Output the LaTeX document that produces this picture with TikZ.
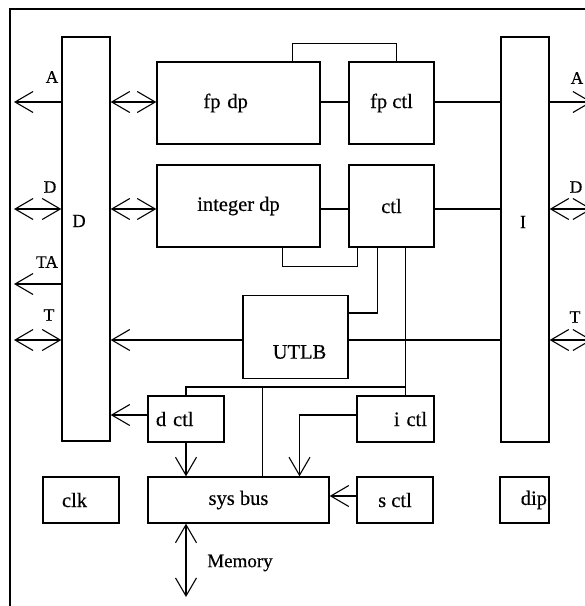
\documentclass[tikz,border=0pt]{standalone}
\usepackage{fontspec}
\setmainfont{Liberation Serif}[FakeBold=0.4]
\usetikzlibrary{arrows.meta}

\begin{document}
\begin{tikzpicture}[x=1pt, y=-1pt,
        >={Straight Barb[length=18pt,width=21pt]},
        box/.style={draw, line width=1.4pt, inner sep=0pt,
                    font=\fontsize{20.5}{23}\selectfont},
        lbl/.style={font=\fontsize{17.5}{20}\selectfont, inner sep=0pt},
        wire/.style={line width=1.1pt}]
      \useasboundingbox (0,0) rectangle (585,606);
      % frame, cut off at right and bottom
      \draw[line width=1.4pt] (585,9) -- (10,9) -- (10,606);
      % the two buses
      \node[box, minimum width=48pt, minimum height=404pt] (dbus) at (86,239) {};
      \node[box, minimum width=48pt, minimum height=405pt] (ibus) at (525,239.5) {};
      \node[lbl, font=\fontsize{18.5}{20}\selectfont] (dname) at (79,221) {D};
      \node[lbl, font=\fontsize{18.5}{20}\selectfont] (iname) at (523,222) {I};
      % datapaths and their control
      \node[box, minimum width=163pt, minimum height=82pt,
            text width=70pt, align=left] (fpdp) at (238.5,103) {fp dp};
      \node[box, minimum width=85pt, minimum height=82pt] (fpctl) at (391.5,103) {fp ctl};
      \node[box, minimum width=163pt, minimum height=82pt] (intdp) at (238.5,206) {integer dp};
      \node[box, minimum width=85pt, minimum height=82pt] (ctl) at (391.5,206) {ctl};
      \node[box, minimum width=105pt, minimum height=83pt,
            label={[box, draw=none, xshift=4pt, yshift=-15pt]center:UTLB}] (utlb) at (295.5,337) {};
      % small controllers
      \node[box, minimum width=76pt, minimum height=46pt,
            text width=60pt, align=left] (dctl) at (186,419) {d ctl};
      \node[box, minimum width=77pt, minimum height=46pt,
            text width=63pt, align=right] (ictl) at (395.5,419) {i ctl};
      \node[box, minimum width=181pt, minimum height=46pt] (sysbus) at (238.5,500) {sys bus};
      \node[box, minimum width=76pt, minimum height=46pt,
            text width=38pt, align=left] (clk) at (81,500) {clk};
      \node[box, minimum width=76pt, minimum height=46pt] (sctl) at (395,500) {s ctl};
      \node[box, minimum width=49pt, minimum height=46pt,
            text width=45pt, align=right] (dip) at (524.5,500) {dip};
      % loose ends of the off-chip signals
      \coordinate (wA) at (14,102);
      \coordinate (wD) at (14,209);
      \coordinate (wTA) at (14,284);
      \coordinate (wT) at (14,340);
      \coordinate (eA) at (592,102);
      \coordinate (eD) at (592,209);
      \coordinate (eT) at (592,340);
      \coordinate (mem) at (186,597);
      \coordinate (jn) at (406,387);
      % left side signals
      \draw[wire, ->] (dbus.west |- wA) -- (wA);
      \draw[wire, <->] (wD) -- (dbus.west |- wD);
      \draw[wire, ->] (dbus.west |- wTA) -- (wTA);
      \draw[wire, <->] (wT) -- (dbus.west |- wT);
      \node[lbl] (la) at (52,77) {A};
      \node[lbl] (ld) at (50,187) {D};
      \node[lbl] (lta) at (47,262) {TA};
      \node[lbl] (lt) at (49,315) {T};
      % right side signals
      \draw[wire, ->] (ibus.east |- eA) -- (eA);
      \draw[wire, <->] (ibus.east |- eD) -- (eD);
      \draw[wire, <->] (ibus.east |- eT) -- (eT);
      \node[lbl] (ra) at (577,78) {A};
      \node[lbl] (rd) at (576,187) {D};
      \node[lbl] (rt) at (575,317) {T};
      % D bus to the datapaths
      \draw[wire, <->] (dbus.east |- wA) -- (fpdp.west |- wA);
      \draw[wire, <->] (dbus.east |- wD) -- (intdp.west |- wD);
      % datapath to control
      \draw[wire] (fpdp.east |- wA) -- (fpctl.west |- wA);
      \draw[wire] ([xshift=-28pt]fpdp.north east) -- ++(0,-18) -| ([xshift=5pt]fpctl.north);
      \draw[wire] (intdp.east |- wD) -- (ctl.west |- wD);
      \draw[wire] ([xshift=-38pt]intdp.south east) -- ++(0,19) -| ([xshift=9pt]ctl.south west);
      % control to I bus
      \draw[wire, line width=1.4pt] (fpctl.east |- wA) -- (ibus.west |- wA);
      \draw[wire, line width=1.4pt] (ctl.east |- wD) -- (ibus.west |- wD);
      % UTLB
      \draw[wire] ([xshift=29pt]ctl.south west) |- ([yshift=24pt]utlb.east);
      \draw[wire] (utlb.east |- wT) -- (ibus.west |- wT);
      \draw[wire, ->] (utlb.west |- wT) -- (dbus.east |- wT);
      % control lines down to the controllers
      \draw[wire] ([xshift=57pt]ctl.south west) -- ([xshift=57pt]ctl.south west |- ictl.north);
      \draw[wire] (dctl.north) |- (jn);
      \draw[wire] ([xshift=24pt]sysbus.north) -- ([xshift=24pt]sysbus.north |- jn);
      \draw[wire, ->] ([yshift=4pt]dctl.west) -- ([yshift=4pt]dctl.west -| dbus.east);
      % into the system bus
      \draw[wire, ->] (dctl.south) -- (dctl.south |- sysbus.north);
      \draw[wire, ->] ([yshift=4pt]ictl.west) -| ([xshift=61pt]sysbus.north);
      \draw[wire, ->] ([yshift=4pt]sctl.west) -- ([yshift=4pt]sctl.west -| sysbus.east);
      \draw[wire, <->] (dctl.south |- sysbus.south) -- (mem);
      \node[lbl, font=\fontsize{19}{21}\selectfont] (memname) at (240,563) {Memory};
    \end{tikzpicture}
\end{document}
